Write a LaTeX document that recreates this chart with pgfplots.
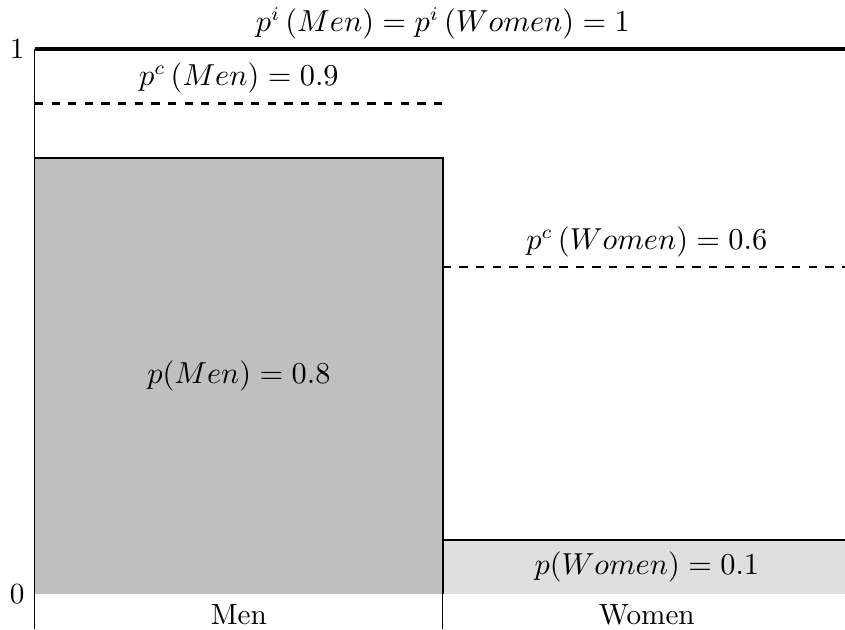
\documentclass[border=0pt]{standalone}
\usepackage{pgfplots}
\pgfplotsset{compat=1.18}

\begin{document}
\fontsize{10.55}{12.7}\selectfont
\begin{tikzpicture}
\begin{axis}[
  at={(0,0)}, anchor=south west,
  scale only axis,
  width=294.5pt, height=196.8pt,
  xmin=0, xmax=2, ymin=0, ymax=1,
  axis x line*=bottom, axis y line*=left,
  x axis line style={draw=none},
  ytick={0,1}, yticklabels={0,1},
  ytick style={draw=none},
  xtick={0.5,1.5}, xticklabels={Men,Women},
  xtick style={draw=none},
  extra x ticks={0,1},
  extra x tick labels={},
  extra x tick style={
    tick align=outside,
    major tick length=12.6pt,
    xtick style={draw=black, thin},
  },
  clip=false,
]
  % share of each group
  \addplot[fill=gray!50, draw=none] coordinates {(0,0.8) (1,0.8)} \closedcycle;
  \addplot[fill=gray!25, draw=none] coordinates {(1,0.1) (2,0.1)} \closedcycle;
  \addplot[black, thick] coordinates {(0,0.8) (1,0.8) (1,0)};
  \addplot[black, thick] coordinates {(1,0.1) (2,0.1)};

  % conditional probabilities
  \addplot[black, thick, dashed] coordinates {(0,0.9) (1,0.9)};
  \addplot[black, thick, dashed] coordinates {(1,0.6) (2,0.6)};

  % ideal probability
  \addplot[black, ultra thick] coordinates {(0,1) (2,1)};

  \node[anchor=south] at (axis cs:1,1) {$p^{i}\left(Men\right) = p^{i}\left(Women\right) = 1$};
  \node[anchor=south] at (axis cs:0.5,0.9) {$p^{c}\left(Men\right) = 0.9$};
  \node[anchor=south] at (axis cs:1.5,0.6) {$p^{c}\left(Women\right) = 0.6$};
  \node at (axis cs:0.5,0.4) {$p(Men) = 0.8$};
  \node at (axis cs:1.5,0.05) {$p(Women) = 0.1$};
\end{axis}
\pgfresetboundingbox
\path[use as bounding box] (-12.6pt,-12.6pt) rectangle (292.4pt,214.5pt);
\end{tikzpicture}
\end{document}
